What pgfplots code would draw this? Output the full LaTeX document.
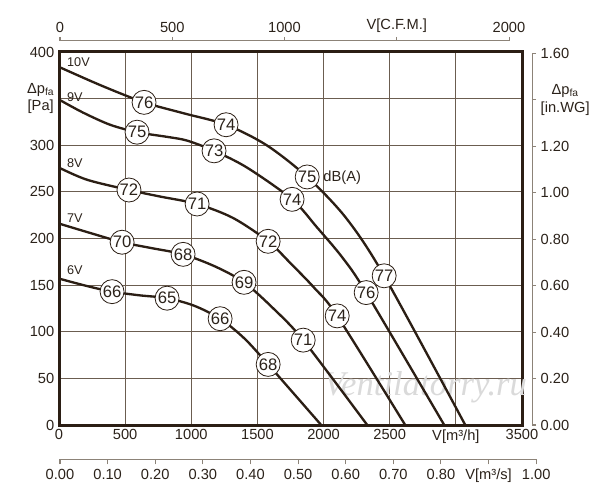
\documentclass[border=0pt]{standalone}
\usepackage{fontspec}
\setmainfont{Liberation Sans}
\newfontfamily\wmfont{Liberation Serif}
\usepackage{pgfplots}
\pgfplotsset{compat=1.18}
\definecolor{frame}{HTML}{2B1E14}
\definecolor{gridc}{HTML}{6B5D50}
\definecolor{secax}{HTML}{8C8378}
\definecolor{txt}{HTML}{2B221A}
\definecolor{wm}{HTML}{DADADA}
\pgfplotsset{
  tickfont/.style={font=\fontsize{11}{14}\selectfont, text=txt},
  curve/.style={frame, line width=1.75pt, smooth, tension=0.5, mark=none},
  circ/.style={draw=none, mark=none, nodes near coords, point meta=explicit symbolic,
    every node near coord/.append style={circle, draw=frame, fill=white, line width=0.6pt,
      minimum size=18pt, inner sep=0pt, anchor=center, font=\fontsize{12.5}{14}\selectfont, text=txt}},
}
\begin{document}
\begin{tikzpicture}
\useasboundingbox (-44.25pt,-56.25pt) rectangle (405.75pt,318.75pt);
% main axis
\begin{axis}[
  at={(0,0)}, anchor=south west, scale only axis,
  width=347.25pt, height=279.75pt,
  xmin=0, xmax=3500, ymin=0, ymax=400,
  xtick={0,500,1000,1500,2000,2500,3000,3500},
  ytick={0,50,100,150,200,250,300,350,400},
  xticklabels={0,500,1000,1500,2000,2500,{V[m³/h]},3500},
  yticklabels={0,50,100,150,200,250,300,{Δp\textsubscript{fa}\\{[Pa]}},400},
  grid=major, major grid style={gridc, line width=0.75pt},
  major tick length=0pt,
  axis line style={frame, line width=2.25pt},
  ticklabel style={tickfont},
  yticklabel style={align=center, font=\fontsize{11}{13}\selectfont},
  clip=false,
]
\node[font=\wmfont\itshape\fontsize{26}{26}\selectfont, text=wm] at (axis cs:2770,40) {Ventilatorry.ru};
% 10V
\addplot[curve] coordinates {(0,384) (320,364) (643,346) (950,334) (1263,322) (1570,300) (1876,266) (2170,222) (2458,160) (3071,0)};
% 9V
\addplot[curve] coordinates {(0,349) (182,335) (386,322) (590,314) (817,309) (968,305) (1172,294) (1422,276) (1762,242) (1950,212) (2140,180) (2322,142) (2912,0)};
% 8V
\addplot[curve] coordinates {(0,276) (212,263) (529,252) (764,245) (1044,237) (1316,222) (1581,197) (1760,172) (1930,147) (2103,117) (2617,0)};
% 7V
\addplot[curve] coordinates {(0,216) (234,206) (477,196) (688,190) (938,183) (1180,170) (1399,153) (1620,125) (1846,91) (2330,0)};
% 6V
\addplot[curve] coordinates {(0,157) (212,149) (401,143) (613,139) (817,136) (1020,128) (1218,114) (1400,93) (1581,65) (1982,0)};
% circles
\addplot[circ] coordinates {(643,346)[76] (1263,322)[74] (1876,266)[75] (2458,160)[77]};
\addplot[circ] coordinates {(590,314)[75] (1172,294)[73] (1762,242)[74] (2322,142)[76]};
\addplot[circ] coordinates {(529,252)[72] (1044,237)[71] (1581,197)[72] (2103,117)[74]};
\addplot[circ] coordinates {(477,196)[70] (938,183)[68] (1399,153)[69] (1846,91)[71]};
\addplot[circ] coordinates {(401,143)[66] (817,136)[65] (1218,114)[66] (1581,65)[68]};
% voltage labels
\begin{scope}[every node/.style={anchor=west, inner sep=0pt, font=\fontsize{9.5}{11}\selectfont, text=txt}]
\node at (axis cs:60,389) {10V};
\node at (axis cs:60,352) {9V};
\node at (axis cs:60,281) {8V};
\node at (axis cs:60,222) {7V};
\node at (axis cs:60,166) {6V};
\end{scope}
\node[anchor=west, inner sep=0pt, font=\fontsize{11}{13}\selectfont, text=txt] at (axis cs:1997,265) {dB(A)};
\end{axis}
% top axis (CFM)
\begin{axis}[
  at={(0.75pt,288pt)}, anchor=north west, scale only axis,
  width=336.75pt, height=1pt,
  xmin=0, xmax=2000, ymin=0, ymax=1,
  axis x line*=top, axis y line=none,
  xtick={0,500,1000,1500,2000},
  xticklabels={0,500,1000,{V[C.F.M.]},2000},
  tick align=outside, major tick length=3pt,
  axis line style={secax, line width=0.75pt},
  tick style={secax, line width=0.75pt},
  ticklabel style={tickfont},
]
\end{axis}
% bottom axis (m3/s)
\begin{axis}[
  at={(0.75pt,-25.5pt)}, anchor=south west, scale only axis,
  width=357.15pt, height=1pt,
  xmin=0, xmax=1, ymin=0, ymax=1,
  axis x line*=bottom, axis y line=none,
  xtick={0,0.1,0.2,0.3,0.4,0.5,0.6,0.7,0.8,0.9,1.0},
  xticklabels={0.00,0.10,0.20,0.30,0.40,0.50,0.60,0.70,0.80,{V[m³/s]},1.00},
  tick align=outside, major tick length=4pt,
  axis line style={secax, line width=0.75pt},
  tick style={secax, line width=0.75pt},
  ticklabel style={tickfont},
]
\end{axis}
% right axis (in.WG)
\begin{axis}[
  at={(354.75pt,0pt)}, anchor=south east, scale only axis,
  width=1pt, height=278.7pt,
  xmin=0, xmax=1, ymin=0, ymax=1.6,
  axis y line*=right, axis x line=none,
  ytick={0,0.2,0.4,0.6,0.8,1.0,1.2,1.4,1.6},
  yticklabels={0.00,0.20,0.40,0.60,0.80,1.00,1.20,{Δp\textsubscript{fa}\\{[in.WG]}},1.60},
  tick align=outside, major tick length=3pt,
  axis line style={secax, line width=0.75pt},
  tick style={secax, line width=0.75pt},
  ticklabel style={tickfont},
  yticklabel style={align=center},
]
\end{axis}
\end{tikzpicture}
\end{document}
